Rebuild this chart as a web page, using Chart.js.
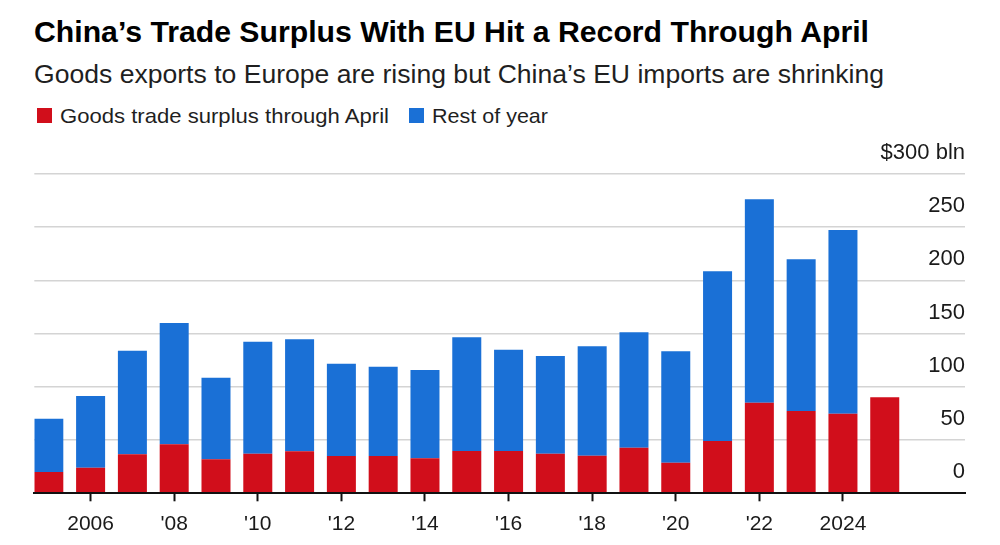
<!DOCTYPE html>
<html>
<head>
<meta charset="utf-8">
<script src="https://cdn.jsdelivr.net/npm/chart.js@4"></script>
<style>
  html, body { margin: 0; padding: 0; background: #fff; }
  body { width: 1000px; height: 545px; position: relative; overflow: hidden; font-family: "Liberation Sans", Arial, sans-serif; color: #1a1a1a; }
  .txt { position: absolute; white-space: nowrap; transform-origin: 0 0; }
  #title { left: 34px; top: 17px; font-size: 30px; line-height: 30px; font-weight: bold; color: #000; }
  #subtitle { left: 34px; top: 62px; font-size: 25px; line-height: 25px; color: #1f1f1f; }
  .swatch { position: absolute; top: 108px; width: 15px; height: 15px; }
  .leg { top: 105px; font-size: 21px; line-height: 21px; color: #1f1f1f; }
  #chartBox { position: absolute; left: 0; top: 140px; width: 1000px; height: 405px; }
</style>
</head>
<body>
<div id="title" class="txt">China’s Trade Surplus With EU Hit a Record Through April</div>
<div id="subtitle" class="txt">Goods exports to Europe are rising but China’s EU imports are shrinking</div>
<div class="swatch" style="left:37px;background:#d10e1b"></div>
<div id="leg1" class="txt leg" style="left:60px">Goods trade surplus through April</div>
<div class="swatch" style="left:409px;background:#1a70d6"></div>
<div id="leg2" class="txt leg" style="left:432px">Rest of year</div>
<div id="chartBox"><canvas id="chart"></canvas></div>
<script>
// values, $ bln
var years = [2005, 2006, 2007, 2008, 2009, 2010, 2011, 2012, 2013, 2014,
             2015, 2016, 2017, 2018, 2019, 2020, 2021, 2022, 2023, 2024, 2025];
var throughApril = [20, 24, 36.6, 46, 32, 37.2, 39.5, 35, 35, 32.9,
                    39.7, 39.7, 37.2, 35.3, 42.8, 28.8, 49.1, 85.1, 77.3, 74.8, 90.2];
var restOfYear = [50, 67.4, 97.4, 114, 76.6, 105.2, 105.2, 86.8, 84, 82.9,
                  106.9, 95.2, 91.8, 102.8, 108.5, 104.6, 159.5, 191.1, 142.6, 172.6];
var xTickYears = [2006, 2008, 2010, 2012, 2014, 2016, 2018, 2020, 2022, 2024];
var yTicks = [0, 50, 100, 150, 200, 250, 300];

function fit(id, w) {
    var el = document.getElementById(id);
    var nat = el.getBoundingClientRect().width;
    el.style.transform = 'scaleX(' + (w / nat) + ')';
}
fit('title', 835);
fit('subtitle', 850);
fit('leg1', 329);
fit('leg2', 116);

var redPts = years.map(function(y, i) { return {x: y, y: throughApril[i]}; });
var bluePts = restOfYear.map(function(v, i) { return {x: years[i], y: v}; });

var pad = {left: 34, right: 35, top: 34, bottom: 5};
var tickFont = {family: '"Liberation Sans", Arial, sans-serif', size: 21};

var chart = new Chart(document.getElementById('chart'), {
    type: 'bar',
    data: {
        datasets: [
            {label: 'Goods trade surplus through April', data: redPts, backgroundColor: '#d10e1b', borderWidth: 0},
            {label: 'Rest of year', data: bluePts, backgroundColor: '#1a70d6', borderWidth: 0}
        ]
    },
    options: {
        responsive: true,
        maintainAspectRatio: false,
        animation: false,
        layout: {padding: pad},
        barPercentage: 1,
        categoryPercentage: 0.694,
        plugins: {legend: {display: false}, tooltip: {enabled: false}},
        scales: {
            x: {
                type: 'linear',
                stacked: true,
                offset: false,
                min: 2004.653,
                max: 2026.92,
                afterBuildTicks: function(scale) {
                    scale.ticks = xTickYears.map(function(v) { return {value: v}; });
                },
                grid: {offset: false, drawOnChartArea: false, drawTicks: true, tickLength: 8, tickColor: '#111', tickWidth: 2},
                border: {display: true, color: '#111', width: 2, z: 1},
                ticks: {
                    includeBounds: false,
                    stepSize: 2,
                    font: tickFont,
                    color: '#1a1a1a',
                    padding: 10,
                    maxRotation: 0,
                    autoSkip: false,
                    callback: function(v) {
                        if (v === 2006 || v === 2024) return String(v);
                        return "'" + String(v).slice(2);
                    }
                }
            },
            y: {
                position: 'right',
                stacked: true,
                min: 0,
                max: 300,
                afterBuildTicks: function(scale) {
                    scale.ticks = yTicks.map(function(v) { return {value: v}; });
                },
                grid: {
                    drawTicks: false,
                    lineWidth: 1.5,
                    color: function(ctx) { return ctx.tick && ctx.tick.value === 0 ? 'rgba(0,0,0,0)' : '#d4d4d4'; }
                },
                border: {display: false},
                ticks: {
                    mirror: true,
                    padding: 0,
                    labelOffset: -21,
                    font: {family: '"Liberation Sans", Arial, sans-serif', size: 22},
                    color: '#1a1a1a',
                    callback: function(v) { return v === 300 ? '$300 bln' : String(v); }
                }
            }
        }
    }
});

// pin the plot area to where it sits in the reference
var want = {left: 34.3, right: 965, top: 34, bottom: 353.3};
var ca = chart.chartArea;
pad.left += want.left - ca.left;
pad.right += ca.right - want.right;
pad.top += want.top - ca.top;
pad.bottom += ca.bottom - want.bottom;
chart.update('none');
</script>
</body>
</html>
